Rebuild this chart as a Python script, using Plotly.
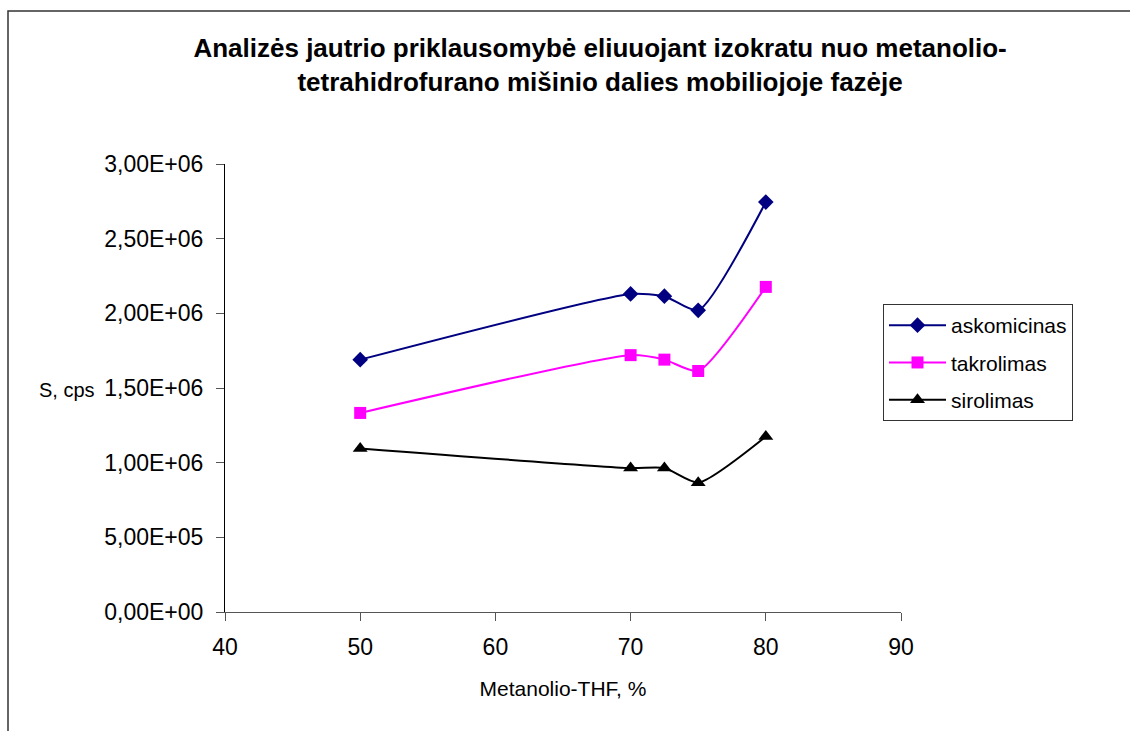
import plotly.graph_objects as go

x_vals = [50, 70, 72.5, 75, 80]
askomicinas = [1.69e6, 2.13e6, 2.115e6, 2.02e6, 2.745e6]
takrolimas = [1.333e6, 1.72e6, 1.69e6, 1.614e6, 2.177e6]
sirolimas = [1.095e6, 0.964e6, 0.964e6, 0.866e6, 1.175e6]

y_tickvals = [0, 5e5, 1e6, 1.5e6, 2e6, 2.5e6, 3e6]
y_ticktext = ["0,00E+00", "5,00E+05", "1,00E+06", "1,50E+06", "2,00E+06", "2,50E+06", "3,00E+06"]
x_tickvals = [40, 50, 60, 70, 80, 90]

W, H = 1130, 731
L, R, T, B = 225, 901, 164, 612

fig = go.Figure()
series = [
    ("askomicinas", askomicinas, "#000080", "diamond", 12),
    ("takrolimas", takrolimas, "#FF00FF", "square", 12),
    ("sirolimas", sirolimas, "#000000", "triangle-up", 13),
]
for name, ys, col, sym, sz in series:
    fig.add_trace(go.Scatter(
        x=x_vals, y=ys, name=name, mode="lines+markers", legendgroup=name,
        line=dict(color=col, width=2, shape="spline", smoothing=0.6),
        marker=dict(color=col, symbol=sym, size=sz),
    ))

pw, ph = R - L, B - T
def px(xp): return (xp - L) / pw
def py(yp): return (B - yp) / ph

fig.update_layout(
    width=W, height=H,
    margin=dict(l=L, r=W - R, t=T, b=H - B),
    paper_bgcolor="white", plot_bgcolor="white",
    font=dict(family="Arial, Liberation Sans", color="black", size=21),
    title=dict(
        text="Analizės jautrio priklausomybė eliuuojant izokratu nuo metanolio-<br>tetrahidrofurano mišinio dalies mobiliojoje fazėje",
        font=dict(size=26, family="Arial, Liberation Sans", weight="bold"),
        x=px(584), xanchor="center", y=1 - 57 / H, yanchor="top",
    ),
    xaxis=dict(
        range=[40, 90], tickvals=x_tickvals, showgrid=False, zeroline=False,
        showline=True, linecolor="#555555", linewidth=1,
        ticks="outside", ticklen=8, tickcolor="#555555",
        tickfont=dict(size=23), ticklabelstandoff=6,
        title=dict(text="Metanolio-THF, %", font=dict(size=21), standoff=22),
    ),
    yaxis=dict(
        range=[0, 3e6], tickvals=y_tickvals, ticktext=y_ticktext,
        showgrid=False, zeroline=False,
        showline=True, linecolor="black", linewidth=1,
        ticks="outside", ticklen=8, tickcolor="#555555",
        tickfont=dict(size=23), ticklabelstandoff=8,
    ),
    legend=dict(
        x=px(883), y=py(304), xanchor="left", yanchor="top",
        bordercolor="#333333", borderwidth=1, bgcolor="white",
        font=dict(size=21), traceorder="grouped", tracegroupgap=7, itemwidth=57,
    ),
    showlegend=True,
)

fig.add_annotation(
    text="S, cps", x=px(67), y=py(390), xref="paper", yref="paper",
    showarrow=False, xanchor="center", yanchor="middle", font=dict(size=20),
)

fig.add_shape(
    type="rect", xref="paper", yref="paper",
    x0=px(8), x1=px(1140), y0=py(745), y1=py(11),
    line=dict(color="#333333", width=1.5), layer="below",
)

fig.write_html("out.html")
